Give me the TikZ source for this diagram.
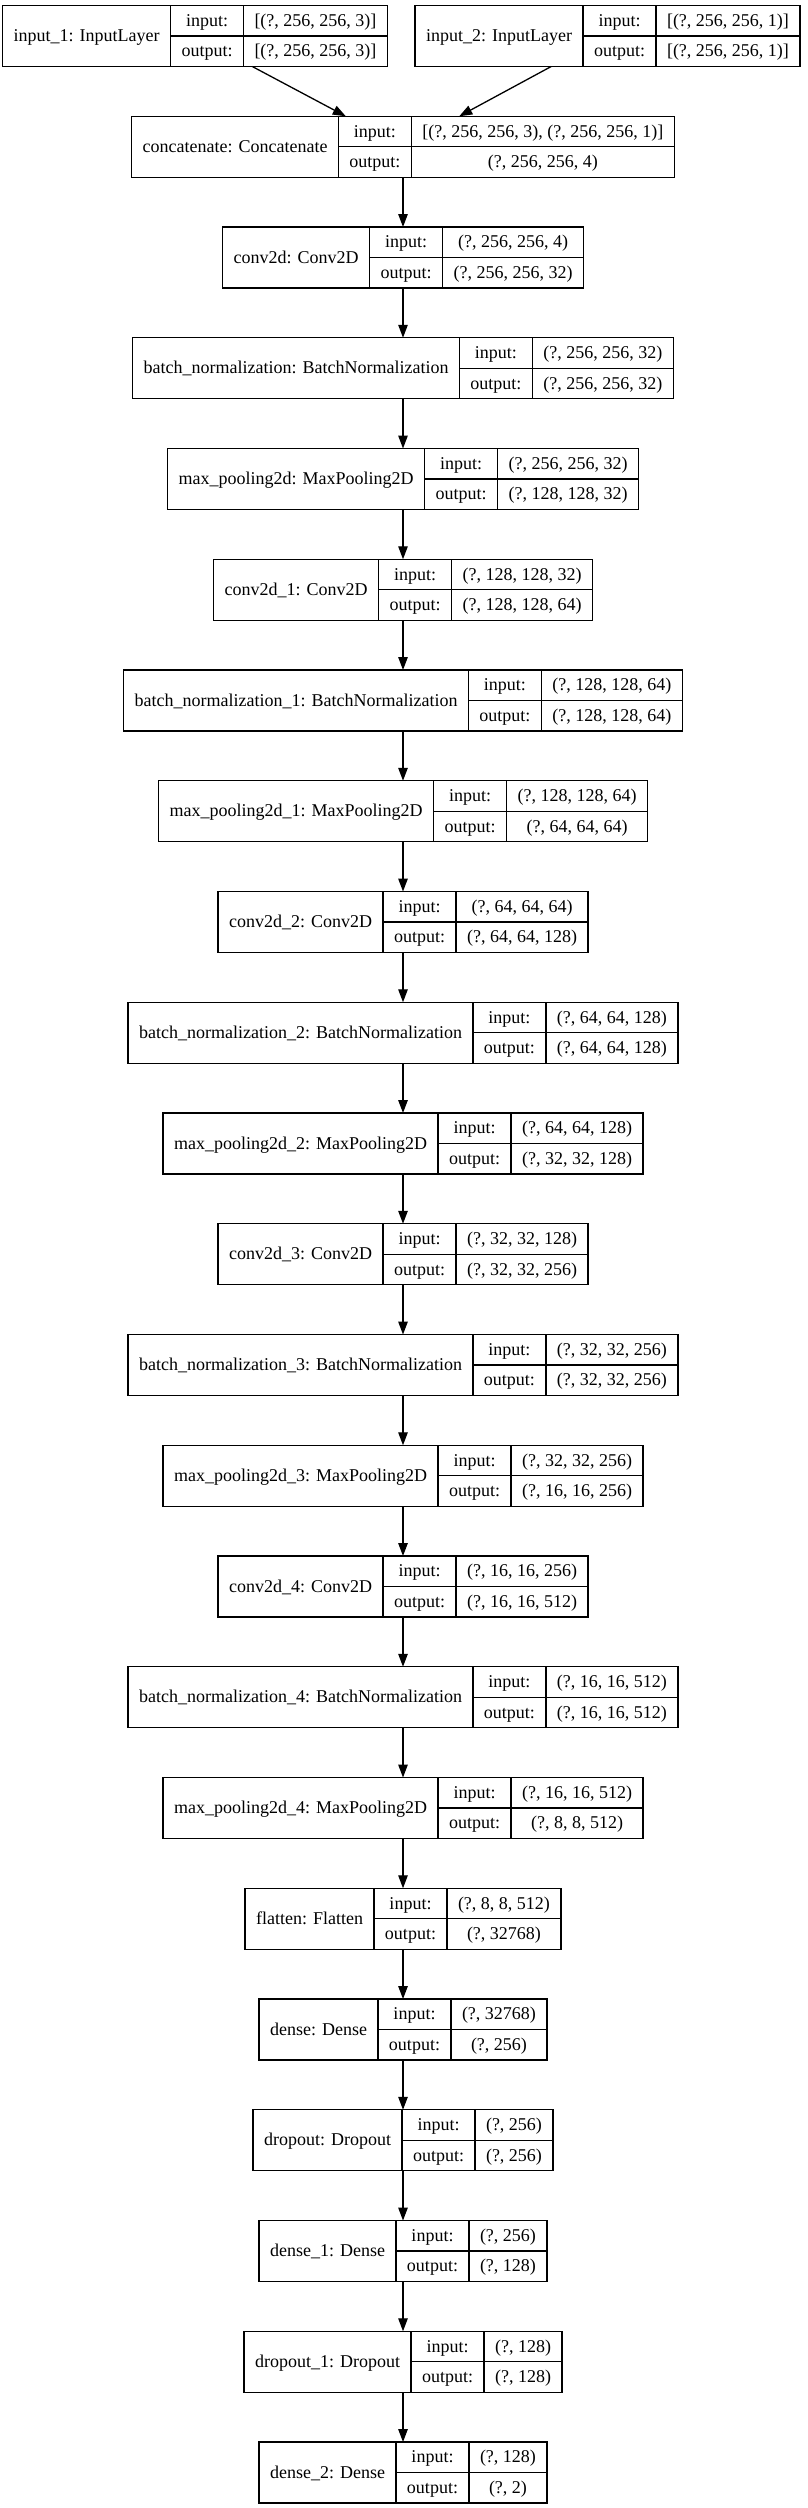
\documentclass[tikz,border=0pt]{standalone}
\usepackage{fontspec}
\setmainfont{Liberation Serif}
\usetikzlibrary{arrows.meta}
\newcommand\lfnt{\normalfont\fontsize{18}{20}\selectfont}
\newlength\lyrwa
\newlength\lyrwb
\tikzset{
  cellln/.style={draw=black, line width=1.3pt},
  outerbox/.style={rectangle, inner sep=0pt, outer sep=0pt, minimum height=61pt},
  txt/.style={inner sep=0pt, font=\lfnt, text height=15pt, text depth=4pt, anchor=center},
  arr/.style={-{Triangle[length=13pt,width=9.5pt]}, line width=1.3pt, draw=black}
}
% measuring pass (outside the picture): #1 key, #2 cx, #3 row, #4 title, #5 in, #6 out
\newcommand\meas[6]{%
  \settowidth\lyrwa{\lfnt #4}\addtolength\lyrwa{22pt}%
  \expandafter\xdef\csname wN@#1\endcsname{\the\lyrwa}%
  \settowidth\lyrwa{\lfnt output:}\addtolength\lyrwa{22pt}%
  \expandafter\xdef\csname wL@#1\endcsname{\the\lyrwa}%
  \settowidth\lyrwa{\lfnt #5}\settowidth\lyrwb{\lfnt #6}%
  \ifdim\lyrwb>\lyrwa \setlength\lyrwa{\lyrwb}\fi
  \addtolength\lyrwa{22pt}%
  \expandafter\xdef\csname wV@#1\endcsname{\the\lyrwa}%
}
% drawing pass
\newcommand\lyr[6]{%
  \pgfmathsetmacro\wN{\csname wN@#1\endcsname}%
  \pgfmathsetmacro\wL{\csname wL@#1\endcsname}%
  \pgfmathsetmacro\wV{\csname wV@#1\endcsname}%
  \pgfmathsetmacro\wW{\wN+\wL+\wV}%
  \pgfmathsetmacro\ytop{5.5+110.75*#3}%
  \pgfmathsetmacro\xl{#2-\wW/2}%
  \pgfmathsetmacro\xa{\xl+\wN}%
  \pgfmathsetmacro\xb{\xa+\wL}%
  \pgfmathsetmacro\xr{\xb+\wV}%
  \pgfmathsetmacro\ym{\ytop+30.5}%
  \pgfmathsetmacro\yb{\ytop+61}%
  \pgfmathsetmacro\yi{\ytop+15.25}%
  \pgfmathsetmacro\yo{\ytop+45.75}%
  \node[outerbox, minimum width=\wW pt] (#1) at (#2,\ym) {};
  \draw[cellln] (\xl,\ytop) rectangle (\xr,\yb);
  \draw[cellln] (\xa,\ytop) -- (\xa,\yb) (\xb,\ytop) -- (\xb,\yb) (\xa,\ym) -- (\xr,\ym);
  \node[txt] (#1-t) at ({(\xl+\xa)/2},\ym) {#4};
  \node[txt] (#1-li) at ({(\xa+\xb)/2},\yi) {input:};
  \node[txt] (#1-lo) at ({(\xa+\xb)/2},\yo) {output:};
  \node[txt] (#1-vi) at ({(\xb+\xr)/2},\yi) {#5};
  \node[txt] (#1-vo) at ({(\xb+\xr)/2},\yo) {#6};
}
\newcommand\layers{%
\L{in1}{195}{0}{input\_1: InputLayer}{[(?, 256, 256, 3)]}{[(?, 256, 256, 3)]}%
\L{in2}{607.5}{0}{input\_2: InputLayer}{[(?, 256, 256, 1)]}{[(?, 256, 256, 1)]}%
\L{cat}{403}{1}{concatenate: Concatenate}{[(?, 256, 256, 3), (?, 256, 256, 1)]}{(?, 256, 256, 4)}%
\L{c0}{403}{2}{conv2d: Conv2D}{(?, 256, 256, 4)}{(?, 256, 256, 32)}%
\L{bn0}{403}{3}{batch\_normalization: BatchNormalization}{(?, 256, 256, 32)}{(?, 256, 256, 32)}%
\L{mp0}{403}{4}{max\_pooling2d: MaxPooling2D}{(?, 256, 256, 32)}{(?, 128, 128, 32)}%
\L{c1}{403}{5}{conv2d\_1: Conv2D}{(?, 128, 128, 32)}{(?, 128, 128, 64)}%
\L{bn1}{403}{6}{batch\_normalization\_1: BatchNormalization}{(?, 128, 128, 64)}{(?, 128, 128, 64)}%
\L{mp1}{403}{7}{max\_pooling2d\_1: MaxPooling2D}{(?, 128, 128, 64)}{(?, 64, 64, 64)}%
\L{c2}{403}{8}{conv2d\_2: Conv2D}{(?, 64, 64, 64)}{(?, 64, 64, 128)}%
\L{bn2}{403}{9}{batch\_normalization\_2: BatchNormalization}{(?, 64, 64, 128)}{(?, 64, 64, 128)}%
\L{mp2}{403}{10}{max\_pooling2d\_2: MaxPooling2D}{(?, 64, 64, 128)}{(?, 32, 32, 128)}%
\L{c3}{403}{11}{conv2d\_3: Conv2D}{(?, 32, 32, 128)}{(?, 32, 32, 256)}%
\L{bn3}{403}{12}{batch\_normalization\_3: BatchNormalization}{(?, 32, 32, 256)}{(?, 32, 32, 256)}%
\L{mp3}{403}{13}{max\_pooling2d\_3: MaxPooling2D}{(?, 32, 32, 256)}{(?, 16, 16, 256)}%
\L{c4}{403}{14}{conv2d\_4: Conv2D}{(?, 16, 16, 256)}{(?, 16, 16, 512)}%
\L{bn4}{403}{15}{batch\_normalization\_4: BatchNormalization}{(?, 16, 16, 512)}{(?, 16, 16, 512)}%
\L{mp4}{403}{16}{max\_pooling2d\_4: MaxPooling2D}{(?, 16, 16, 512)}{(?, 8, 8, 512)}%
\L{fl}{403}{17}{flatten: Flatten}{(?, 8, 8, 512)}{(?, 32768)}%
\L{d0}{403}{18}{dense: Dense}{(?, 32768)}{(?, 256)}%
\L{do0}{403}{19}{dropout: Dropout}{(?, 256)}{(?, 256)}%
\L{d1}{403}{20}{dense\_1: Dense}{(?, 256)}{(?, 128)}%
\L{do1}{403}{21}{dropout\_1: Dropout}{(?, 128)}{(?, 128)}%
\L{d2}{403}{22}{dense\_2: Dense}{(?, 128)}{(?, 2)}%
}
\begin{document}
\let\L\meas\layers
\begin{tikzpicture}[x=1pt,y=-1pt]
\useasboundingbox (0,0) rectangle (808,2508);
\fill[white] (0,0) rectangle (808,2508);
\let\L\lyr
\layers
\draw[arr] (in1) -- (cat);
\draw[arr] (in2) -- (cat);
\foreach \a/\b in {cat/c0,c0/bn0,bn0/mp0,mp0/c1,c1/bn1,bn1/mp1,mp1/c2,c2/bn2,bn2/mp2,mp2/c3,c3/bn3,bn3/mp3,mp3/c4,c4/bn4,bn4/mp4,mp4/fl,fl/d0,d0/do0,do0/d1,d1/do1,do1/d2}
  \draw[arr] (\a) -- (\b);
\end{tikzpicture}
\end{document}
